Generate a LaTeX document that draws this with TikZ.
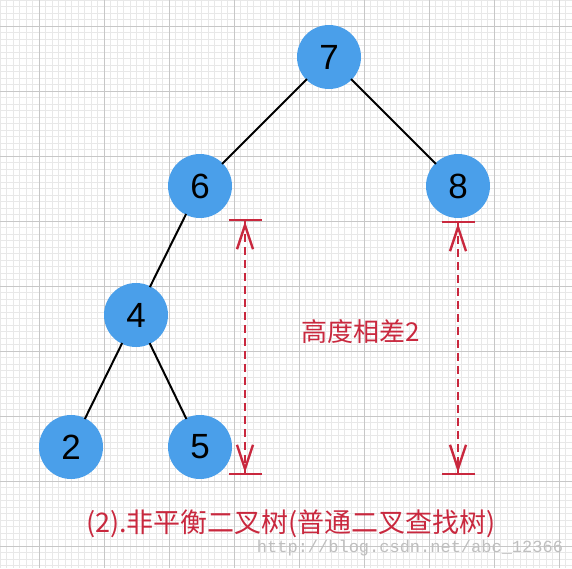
\documentclass[tikz,border=0pt]{standalone}
\usepackage{fontspec}
\setmainfont{Liberation Sans}
\newfontfamily\cjk{Noto Sans CJK SC}
\setmonofont{Liberation Mono}
\usetikzlibrary{positioning,arrows.meta}
\definecolor{nodeblue}{HTML}{4A9FEA}
\definecolor{markred}{HTML}{C9283E}
\tikzset{
  num/.style={circle, fill=nodeblue, minimum size=64pt, inner sep=0pt, font=\fontsize{35}{35}\selectfont},
  edge/.style={draw=black, line width=2pt, shorten <=-1pt, shorten >=-1pt},
  gap/.style={draw=markred, line width=2.2pt, dash pattern=on 8pt off 5pt,
    {Bar[width=33pt,line width=2.4pt]Straight Barb[length=24pt,width=16pt,line width=2.4pt]}-{Straight Barb[length=24pt,width=16pt,line width=2.4pt]Bar[width=33pt,line width=2.4pt]}},
  minorgrid/.style={draw=black!9, line width=0.7pt},
  majorgrid/.style={draw=black!22, line width=0.9pt}
}
\begin{document}
\begin{tikzpicture}[x=1pt,y=-1pt,on grid]
  \useasboundingbox (0,0) rectangle (572,568);
  \fill[white] (0,0) rectangle (572,568);
  % background grid
  \foreach \x in {0,6.5,...,572} \draw[minorgrid] (\x,0) -- (\x,568);
  \foreach \y in {0,6.5,...,568} \draw[minorgrid] (0,\y) -- (572,\y);
  \foreach \x in {39,104,...,572} \draw[majorgrid] (\x,0) -- (\x,568);
  \foreach \y in {26,91,...,568} \draw[majorgrid] (0,\y) -- (572,\y);
  % tree
  \node (n7) [num] at (329,57) {7};
  \node (n6) [num, below left=129pt and 129pt of n7] {6};
  \node (n8) [num, below right=129pt and 129pt of n7] {8};
  \node (n4) [num, below left=129pt and 64pt of n6] {4};
  \node (n2) [num, below left=132pt and 65pt of n4] {2};
  \node (n5) [num, below right=132pt and 64pt of n4] {5};
  \draw[edge] (n7) -- (n6);
  \draw[edge] (n7) -- (n8);
  \draw[edge] (n6) -- (n4);
  \draw[edge] (n4) -- (n2);
  \draw[edge] (n4) -- (n5);
  % height difference
  \coordinate (lt) at (245,219);
  \coordinate (lb) at (245,475);
  \coordinate (rt) at (458,221);
  \coordinate (rb) at (458,475);
  \draw[gap] (lt) -- (lb);
  \draw[gap] (rt) -- (rb);
  \node (diff) [text=markred, font=\cjk\fontsize{26}{26}\selectfont] at (361,332) {高度相差2};
  \node (title) [text=markred, font=\cjk\fontsize{27}{27}\selectfont] at (291,524) {(2).非平衡二叉树(普通二叉查找树)};
  \node (mark) [text=black!25, font=\ttfamily\fontsize{17}{17}\selectfont] at (410,548) {http://blog.csdn.net/abc\_12366};
\end{tikzpicture}
\end{document}
